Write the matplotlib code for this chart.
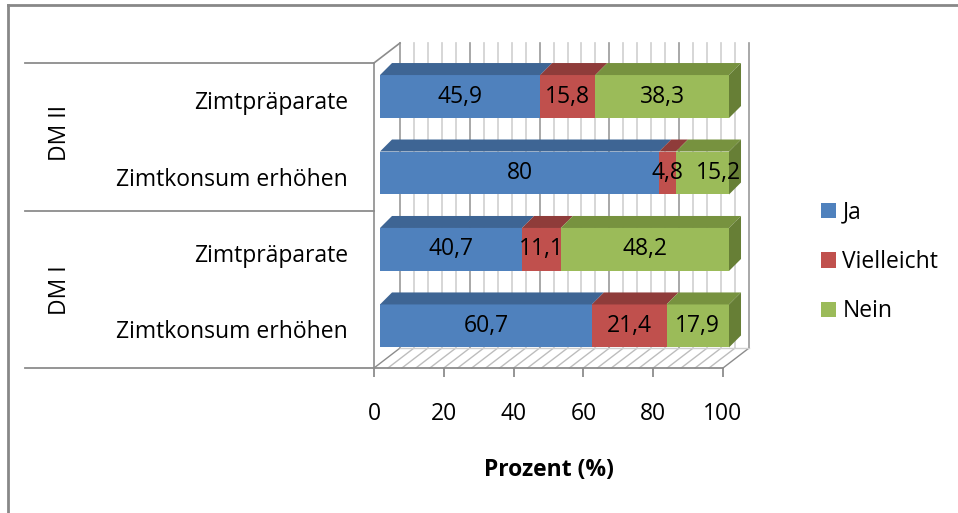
import matplotlib
matplotlib.use('Agg')
import matplotlib.pyplot as plt
from matplotlib.patches import Polygon, Patch
from matplotlib.lines import Line2D

plt.rcParams['font.family'] = ['Open Sans', 'DejaVu Sans']

# data, bottom row first
groups = ['DM I', 'DM II']
categories = ['Zimtkonsum erhöhen', 'Zimtpräparate', 'Zimtkonsum erhöhen', 'Zimtpräparate']
series = ['Ja', 'Vielleicht', 'Nein']
ja = [60.7, 40.7, 80, 45.9]
vielleicht = [21.4, 11.1, 4.8, 15.8]
nein = [17.9, 48.2, 15.2, 38.3]
ticks = [0, 20, 40, 60, 80, 100]

front = ['#4F81BD', '#C0504D', '#9BBB59']
top = ['#3E6594', '#8F3C3A', '#77923F']
side = ['#375A84', '#7F3533', '#677F36']

FS = 16.5
GRID = '#cfcfcf'
MAJOR = '#9a9a9a'
EDGE = '#8c8c8c'

fig = plt.figure(figsize=(9.58, 5.13), dpi=100)
ax = fig.add_axes([374 / 958, (513 - 368) / 513, 349 / 958, 325 / 513])
y_floor, y_top = -0.55, 3.70
ax.set_xlim(0, 100)
ax.set_ylim(y_floor, y_top)

# 3d offsets (data units)
DX, DY = 7.45, 0.261      # wall depth
BX = 1.72                 # bar front plane shift
BH = 0.281                # half bar height
BDX, BDY = 3.44, 0.157    # bar depth

# back wall + floor grid
for g in range(0, 101, 4):
    c = MAJOR if g % 20 == 0 else GRID
    ax.plot([g, g + DX], [y_floor, y_floor + DY], color='#bdbdbd' if 0 < g < 100 else EDGE,
            lw=1.0, clip_on=False, zorder=1)
    ax.plot([g + DX, g + DX], [y_floor + DY, y_top], color=c, lw=1.2, clip_on=False, zorder=1)
# left wall
ax.plot([0, 0], [y_floor, y_top - DY], color=EDGE, lw=1.2, clip_on=False, zorder=1)
ax.plot([0, DX], [y_top - DY, y_top], color=EDGE, lw=1.2, clip_on=False, zorder=1)
ax.plot([DX, 100 + DX], [y_floor + DY, y_floor + DY], color=GRID, lw=1.0, clip_on=False, zorder=1)

# bars
vals = [ja, vielleicht, nein]
for i in range(len(categories)):
    left = 0
    b, t = i - BH, i + BH
    prev = None
    for k in range(len(series)):
        v = vals[k][i]
        x0, x1 = BX + left, BX + left + v
        ax.add_patch(Polygon([(x0, b), (x1, b), (x1, t), (x0, t)], closed=True,
                             facecolor=front[k], edgecolor='none', zorder=3, clip_on=False))
        ax.add_patch(Polygon([(x0, t), (x1, t), (x1 + BDX, t + BDY), (x0 + BDX, t + BDY)],
                             closed=True, facecolor=top[k], edgecolor='none', zorder=3,
                             clip_on=False))
        # nudge a label that follows a very thin segment
        nudge = 4.5 if prev is not None and prev < 8 else 0
        ax.text((x0 + x1) / 2 + nudge, i, f'{v:g}'.replace('.', ','), ha='center',
                va='center', fontsize=FS, color='black', zorder=5, clip_on=False)
        prev = v
        left += v
    x1 = BX + left
    ax.add_patch(Polygon([(x1, b), (x1, t), (x1 + BDX, t + BDY), (x1 + BDX, b + BDY)],
                         closed=True, facecolor=side[2], edgecolor='none', zorder=3,
                         clip_on=False))

# category labels and group separators
for i, cat in enumerate(categories):
    ax.text(-7.4, i - 0.085, cat, ha='right', va='center', fontsize=FS, clip_on=False)
for yy in [y_top - DY, 1.5, y_floor]:
    ax.plot([-100, 0], [yy, yy], color=EDGE, lw=1.3, clip_on=False, zorder=1)
for j, g in enumerate(groups):
    ax.text(-90, 0.47 + j * 2.05, g, rotation=90, ha='center', va='center', fontsize=FS)

# axis
for s in ['top', 'right', 'left']:
    ax.spines[s].set_visible(False)
ax.spines['bottom'].set_color(EDGE)
ax.spines['bottom'].set_linewidth(1.3)
ax.set_yticks([])
ax.set_xticks(ticks)
ax.tick_params(axis='x', direction='out', length=6.5, width=1.3, color=EDGE, pad=18,
               labelsize=FS)
ax.set_xlabel('Prozent (%)', fontsize=FS, fontweight='bold', labelpad=23)
ax.set_facecolor('none')

handles = [Patch(facecolor=front[k], edgecolor='none') for k in range(3)]
fig.legend(handles, series, loc='center left', bbox_to_anchor=(800 / 958, 1 - 262 / 513),
           frameon=False, fontsize=FS, handlelength=0.65, handleheight=0.65,
           handletextpad=0.3, labelspacing=1.1)

# chart frame
fig.add_artist(Line2D([8 / 958, 8 / 958], [0, 1 - 5 / 513], color='#888888', lw=2))
fig.add_artist(Line2D([8 / 958, 1], [1 - 5 / 513, 1 - 5 / 513], color='#888888', lw=2))

fig.savefig('out.png', dpi=100)
